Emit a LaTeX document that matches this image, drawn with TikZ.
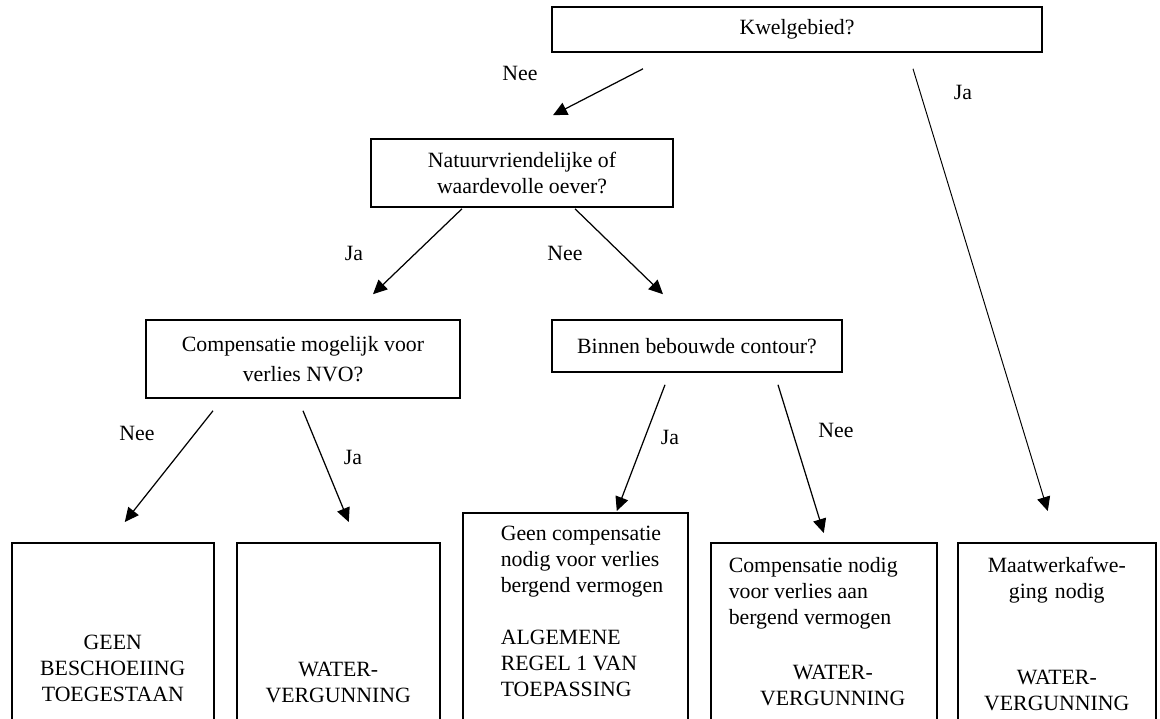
\documentclass[tikz,border=0pt]{standalone}
\usepackage{fontspec}
\setmainfont{Liberation Serif}
\usetikzlibrary{arrows.meta}

\tikzstyle{question} = [rectangle, draw=black, line width=0.9pt, align=center, inner sep=0pt, font=\fontsize{12.4}{15}\selectfont]
\tikzstyle{outcome} = [rectangle, draw=black, line width=0.9pt, anchor=north west, inner sep=0pt, text depth=4cm, font=\fontsize{12.4}{14.6}\selectfont]
\tikzstyle{answer} = [inner sep=0pt, font=\fontsize{12.4}{15}\selectfont]
\tikzstyle{arrow} = [line width=0.7pt, -{Triangle[length=8pt,width=7.5pt]}]

\begin{document}
\begin{tikzpicture}[node distance = 2cm]
\useasboundingbox (0,0) rectangle (23.2,-14.38);

\node (kwel) [question, minimum width=9.8cm, minimum height=0.9cm] at (15.94,-0.59) {Kwelgebied?};
\node (natuur) [question, below of=kwel, xshift=-5.5cm, yshift=-0.87cm, minimum width=6.04cm, minimum height=1.36cm] {Natuurvriendelijke of\\waardevolle oever?};
\node (comp) [question, below of=natuur, xshift=-4.38cm, yshift=-1.72cm, minimum width=6.28cm, minimum height=1.56cm, font=\fontsize{12.4}{17}\selectfont] {Compensatie mogelijk voor\\verlies NVO?};
\node (binnen) [question, below of=natuur, xshift=3.5cm, yshift=-1.46cm, minimum width=5.8cm, minimum height=1.04cm] {Binnen bebouwde contour?};

\node (geen) [outcome, text width=4.04cm, text height=2.14cm, align=center] at (0.22,-10.84) {GEEN\\BESCHOEIING\\TOEGESTAAN};
\node (vergA) [outcome, text width=4.06cm, text height=2.68cm, align=center] at (4.72,-10.84) {WATER-\\VERGUNNING};
\node (regel) [outcome, text height=0.56cm] at (9.24,-10.24) {\hspace*{0.76cm}\parbox[t]{3.74cm}{\raggedright Geen compensatie\\nodig voor verlies\\bergend vermogen\\[15.5pt]ALGEMENE\\REGEL 1 VAN\\TOEPASSING}};
\node (vergB) [outcome, text height=0.6cm] at (14.2,-10.84) {\hspace*{0.36cm}\parbox[t]{4.16cm}{\raggedright Compensatie nodig\\voor verlies aan\\bergend vermogen\par\vspace{17.2pt}\centering WATER-\\VERGUNNING}};
\node (maat) [outcome, text width=3.96cm, text height=0.6cm, align=center] at (19.14,-10.84) {Maatwerkafwe-\\ging nodig\\[34.3pt]WATER-\\VERGUNNING};

\node (neeA) [answer] at (10.4,-1.46) {Nee};
\node (jaA) [answer] at (19.26,-1.84) {Ja};
\node (jaB) [answer] at (7.08,-5.06) {Ja};
\node (neeB) [answer] at (11.3,-5.06) {Nee};
\node (neeC) [answer] at (2.74,-8.66) {Nee};
\node (jaC) [answer] at (7.06,-9.14) {Ja};
\node (jaD) [answer] at (13.4,-8.74) {Ja};
\node (neeD) [answer] at (16.72,-8.6) {Nee};

\draw [arrow] ([xshift=-3.08cm,yshift=-0.32cm]kwel.south) -- ([xshift=0.62cm,yshift=0.46cm]natuur.north);
\draw [arrow, line width=0.55pt] ([xshift=2.32cm,yshift=-0.32cm]kwel.south) -- ([xshift=-0.18cm,yshift=0.62cm]maat.north);
\draw [arrow] ([xshift=-1.2cm,yshift=-0.02cm]natuur.south) -- ([xshift=1.4cm,yshift=0.5cm]comp.north);
\draw [arrow] ([xshift=1.06cm,yshift=-0.02cm]natuur.south) -- ([xshift=-0.68cm,yshift=0.5cm]binnen.north);
\draw [arrow] ([xshift=-1.8cm,yshift=-0.24cm]comp.south) -- ([xshift=0.24cm,yshift=0.4cm]geen.north);
\draw [arrow] ([yshift=-0.24cm]comp.south) -- ([xshift=0.21cm,yshift=0.4cm]vergA.north);
\draw [arrow] ([xshift=-0.64cm,yshift=-0.24cm]binnen.south) -- ([xshift=0.83cm,yshift=0.02cm]regel.north);
\draw [arrow] ([xshift=1.62cm,yshift=-0.24cm]binnen.south) -- ([yshift=0.18cm]vergB.north);

\end{tikzpicture}
\end{document}
